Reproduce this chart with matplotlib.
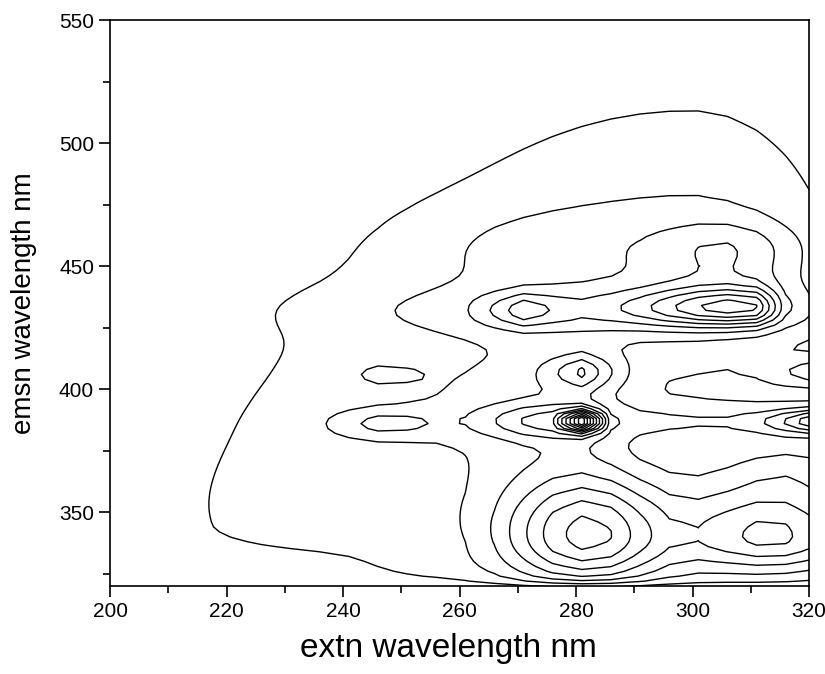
import numpy as np
import matplotlib
matplotlib.use("Agg")
import matplotlib.pyplot as plt
from matplotlib.ticker import MultipleLocator

plt.rcParams['font.family'] = ['Liberation Sans', 'DejaVu Sans']

# excitation / emission sampling of the spectrum (nm)
ex_nm = np.arange(201, 322, 5)
em_nm = np.arange(316, 552, 2)

# emission below this edge was removed (scatter) in the map
scatter_cut_em = 320.5
scatter_cut_width = 1.2

# fluorescence components read from the map:
# centre ex, centre em, height, ex width low/high side, em width low/high side
comp_name = ["humic broad", "left broad", "mid humic", "low-em left", "low-em right",
             "low-em shoulder", "right mid", "ridge 392", "peak 282/340", "peak 314/340",
             "band 387 broad", "band 387 left", "band 387 rise", "band 387 spike",
             "band 387 right", "band 407 centre", "band 407 island", "band 407 right",
             "band 432 link", "peak 271/432", "peak 310/433", "upper lobe"]
comp_ex = [300, 245, 272, 235, 278, 252, 318, 280, 282, 314, 295, 247, 276, 281, 325, 281, 247, 323, 295, 271, 310, 307]
comp_em = [450, 400, 458, 345, 345, 328, 368, 392, 340, 340, 387, 386, 387, 387, 387, 407, 406, 407, 432, 432, 433, 456]
comp_amp = [2.2, 1.05, 0.7, 1.3, 1.5, 0.5, 1.4, 1.6, 5.9, 4.6, 1.35, 1.7, 2.1, 8.5, 5.5, 2.9, 1.0, 2.5, 2.0, 2.4, 5.0, 2.0]
comp_sx_lo = [32, 25, 15, 20, 18, 8, 9, 18, 10, 11, 22, 6, 8, 1.5, 7, 4, 3.5, 6, 30, 4, 12, 10]
comp_sx_hi = [18, 30, 15, 15, 30, 8, 10, 5, 9, 11, 40, 6, 4, 1.5, 7, 4, 3.5, 6, 20, 4, 3, 8]
comp_sy_lo = [30, 30, 12, 11, 30, 6, 9, 18, 14, 10, 5, 4, 5, 3, 3.5, 5, 3, 4, 7, 5, 5, 12]
comp_sy_hi = [50, 45, 12, 28, 25, 6, 9, 18, 18, 15, 5, 4, 5, 3, 3.5, 5, 3, 4, 7, 5, 6, 9]

contour_levels = np.arange(1, 14, 1)

X, Y = np.meshgrid(ex_nm, em_nm)
Z = np.zeros_like(X, dtype=float)
for x0, y0, a, sxl, sxh, syl, syh in zip(comp_ex, comp_em, comp_amp,
                                         comp_sx_lo, comp_sx_hi, comp_sy_lo, comp_sy_hi):
    sx = np.where(X < x0, sxl, sxh)
    sy = np.where(Y < y0, syl, syh)
    Z += a * np.exp(-0.5 * ((X - x0) / sx) ** 2) * np.exp(-0.5 * ((Y - y0) / sy) ** 2)
Z *= 1.0 / (1.0 + np.exp(-(Y - scatter_cut_em) / scatter_cut_width))

fig = plt.figure(figsize=(8.25, 6.74), dpi=100)
ax = fig.add_axes([110 / 825, 1 - 586 / 674, (809 - 110) / 825, (586 - 20) / 674])
ax.contour(X, Y, Z, levels=contour_levels, colors='black', linewidths=1.0)

ax.set_xlim(200, 320)
ax.set_ylim(320, 550)
ax.xaxis.set_major_locator(MultipleLocator(20))
ax.xaxis.set_minor_locator(MultipleLocator(10))
ax.yaxis.set_major_locator(MultipleLocator(50))
ax.yaxis.set_minor_locator(MultipleLocator(25))
ax.tick_params(which='both', direction='out', top=False, right=False, labelsize=15, width=1.2)
ax.tick_params(which='major', length=8)
ax.tick_params(which='minor', length=5)
for s in ax.spines.values():
    s.set_linewidth(1.2)
ax.set_xlabel("extn wavelength nm", fontsize=24)
ax.set_ylabel("emsn wavelength nm", fontsize=20)
ax.xaxis.set_label_coords((448 - 110) / 699, -0.083)
ax.yaxis.set_label_coords(-0.105, 0.5)

fig.savefig("out.png", dpi=100)
